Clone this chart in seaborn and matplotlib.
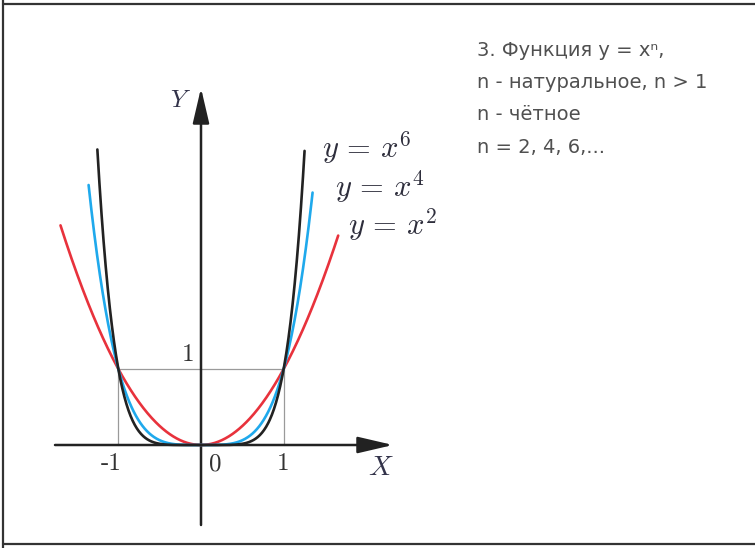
import numpy as np
import pandas as pd
import matplotlib
matplotlib.use("Agg")
import matplotlib.pyplot as plt
from matplotlib.lines import Line2D
import seaborn as sns

# ---- data ----
exponents = [2, 4, 6]
curve_names = ["y = x^2", "y = x^4", "y = x^6"]
x_left = [-1.70, -1.36, -1.254]
x_right = [1.66, 1.35, 1.253]
curve_colors = ["#e8323c", "#1fa9ec", "#222222"]
tick_values = [-1, 0, 1]
tick_labels = ["-1", "0", "1"]
info_lines = ["3. Функция y = xⁿ,", "n - натуральное, n > 1", "n - чётное", "n = 2, 4, 6,..."]

sns.set_theme(style="white")
plt.rcParams["mathtext.fontset"] = "cm"
plt.rcParams["font.family"] = ["DejaVu Sans"]

fig = plt.figure(figsize=(7.55, 5.48), dpi=100)
ax = fig.add_axes([0, 0, 1, 1])

# pixel -> data mapping (origin at px (201,445))
PX_X, PX_Y = 82.65, 76.0
OX, OY = 201.0, 445.0
def dx(px):
    return (px - OX) / PX_X
def dy(py):
    return (OY - py) / PX_Y

ax.set_xlim(dx(0), dx(755))
ax.set_ylim(dy(548), dy(0))
ax.axis("off")

# curves
rows = []
for n, name, a, b in zip(exponents, curve_names, x_left, x_right):
    xs = np.linspace(a, b, 400)
    for xv in xs:
        rows.append({"x": xv, "y": xv ** n, "curve": name})
df = pd.DataFrame(rows)
sns.lineplot(data=df, x="x", y="y", hue="curve", palette=dict(zip(curve_names, curve_colors)),
             estimator=None, sort=True, lw=1.9, legend=False, ax=ax, zorder=4)

# gray guide lines
ax.plot([-1, 1], [1, 1], color="#9a9a9a", lw=0.9, zorder=2)
ax.plot([-1, -1], [0, 1], color="#9a9a9a", lw=0.9, zorder=2)
ax.plot([1, 1], [0, 1], color="#9a9a9a", lw=0.9, zorder=2)

# axes with arrows
arrow = dict(arrowstyle="-|>,head_length=1.2,head_width=0.28", mutation_scale=18,
             lw=1.8, color="#222222", shrinkA=0, shrinkB=0)
ax.annotate("", xy=(dx(393), 0), xytext=(dx(55), 0), arrowprops=arrow, zorder=3)
ax.annotate("", xy=(0, dy(88)), xytext=(0, dy(525)), arrowprops=arrow, zorder=3)

# axis labels
ax.text(dx(181), dy(100), "$Y$", fontsize=18, color="#33334a", ha="center", va="center")
ax.text(dx(381), dy(467), "$X$", fontsize=20, color="#33334a", ha="center", va="center")

# tick labels (CM roman, hyphen style)
serif = ["cmr10", "DejaVu Serif"]
ax.text(dx(188), dy(355), "1", fontsize=18, color="#333333", ha="center", va="center",
        family=serif)
tick_px = {-1: 111, 0: 215, 1: 283}
for v, lab in zip(tick_values, tick_labels):
    ax.text(dx(tick_px[v]), dy(464), lab, fontsize=18, color="#333333",
            ha="center", va="center", family=serif)

# curve labels
label_pos = {"y = x^6": (322, 158), "y = x^4": (335, 197), "y = x^2": (348, 235)}
for name in curve_names:
    px, py = label_pos[name]
    base, p = name.split("^")
    ax.text(dx(px), dy(py), r"$y \,=\, x^{" + p + "}$", fontsize=22, color="#2e2e3c",
            ha="left", va="baseline")

# info text
for i, line in enumerate(info_lines):
    ax.text(dx(477), dy(50 + i * 32.5), line, fontsize=14, color="#505050",
            ha="left", va="center")

# frame lines (figure pixels)
W, H = 755, 548
fig.add_artist(Line2D([3 / W, 1], [1 - 4 / H, 1 - 4 / H], color="#333333", lw=1.6))
fig.add_artist(Line2D([3 / W, 3 / W], [0, 1], color="#333333", lw=1.6))
fig.add_artist(Line2D([3 / W, 1], [1 - 544 / H, 1 - 544 / H], color="#333333", lw=1.6))

fig.savefig("out.png", dpi=100, facecolor="white")
